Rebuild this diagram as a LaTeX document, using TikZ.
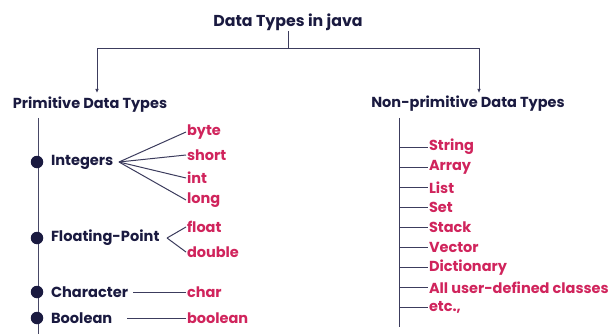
\documentclass[tikz,border=0pt]{standalone}
\usepackage{fontspec}
\setmainfont{Poppins}
\usetikzlibrary{arrows.meta}
\definecolor{navy}{HTML}{1A1A40}
\definecolor{berry}{HTML}{D0245C}

\begin{document}
\begin{tikzpicture}[x=1pt, y=-1pt, line width=1pt,
	every node/.style={inner sep=1, outer sep=0},
	head/.style={text=navy, font=\bfseries\fontsize{14.5}{16}\selectfont},
	kind/.style={anchor=west, text=navy, font=\bfseries\fontsize{14.6}{16}\selectfont},
	leaf/.style={anchor=west, text=berry, font=\bfseries\fontsize{14.5}{16}\selectfont},
	dot/.style={circle, fill=navy, inner sep=0, minimum size=12.5}]
	\useasboundingbox (0,0) rectangle (610,334);
	% the root and its two branches
	\node[head, font=\bfseries\fontsize{15.8}{17}\selectfont] (java) at (288,22) {Data Types in java};
	\node[head] (prim) at (90,105) {Primitive Data Types};
	\node[head] (nonp) at (468,104) {Non-primitive Data Types};
	\coordinate (split) at (288,49);
	\coordinate (pin) at (97,93);
	\coordinate (nin) at (479,93);
	\draw[navy!85] (java) -- (split);
	\draw[navy!85, -{Latex[length=4pt,width=3.5pt]}] (split) -| (pin);
	\draw[navy!85, -{Latex[length=4pt,width=3.5pt]}] (split) -| (nin);

	% primitive side
	\coordinate (ltop) at (38,118);
	\coordinate (lbot) at (38,334);
	\draw[navy!80] (ltop) -- (lbot);
	\node[dot] (d1) at (37,162) {};
	\node[dot] (d2) at (37,238) {};
	\node[dot] (d3) at (37,292) {};
	\node[dot] (d4) at (37,318) {};
	\node[kind] (ints) at (50,162) {Integers};
	\node[kind] (flts) at (50,238) {Floating-Point};
	\node[kind] (chr) at (50,292) {Character};
	\node[kind] (bool) at (50,318) {Boolean};
	\node[leaf] (byte) at (186,132) {byte};
	\node[leaf] (short) at (186,155) {short};
	\node[leaf] (int) at (186,178) {int};
	\node[leaf] (long) at (186,200) {long};
	\node[leaf] (float) at (186,227) {float};
	\node[leaf] (double) at (186,252) {double};
	\node[leaf] (char) at (186,292) {char};
	\node[leaf] (boolean) at (186,318) {boolean};
	\coordinate (ifan) at (119,162);
	\coordinate (ffan) at (167,238);
	\foreach \l in {byte,short,int,long}
		\draw[navy!85] (ifan) -- (\l.west);
	\foreach \l in {float,double}
		\draw[navy!85] (ffan) -- (\l.west);
	\draw[navy!85] (133,292) -- (char.west);
	\draw[navy!85] (127,318) -- (boolean.west);

	% non-primitive side
	\coordinate (rtop) at (399,118);
	\coordinate (rbot) at (399,327);
	\draw[navy!85] (rtop) -- (rbot);
	\foreach \t [count=\i] in {String,Array,List,Set,Stack,Vector,Dictionary,All user-defined classes,{etc.,}}{
		\node[leaf] (np\i) at (428,{127+20.1*\i}) {\t};
		\draw[navy!85] (np\i.west -| rtop) -- (np\i.west);
	}
\end{tikzpicture}
\end{document}
